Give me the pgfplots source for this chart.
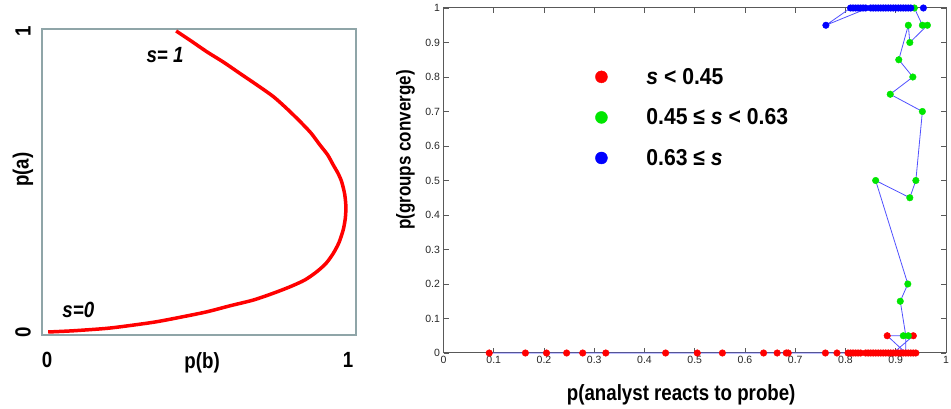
\documentclass[border=0pt]{standalone}
\usepackage{pgfplots}
\pgfplotsset{compat=1.18}
\usepackage{fontspec}
\setmainfont{Liberation Sans}
\newfontfamily\cond[FakeStretch=0.85]{Liberation Sans}
\newfontfamily\condw[FakeStretch=0.92]{Liberation Sans}
\definecolor{boxgray}{RGB}{143,165,168}
\definecolor{mgreen}{RGB}{0,230,0}
\definecolor{lineblue}{RGB}{80,80,255}
\definecolor{mred}{RGB}{255,0,0}
\definecolor{mblue}{RGB}{0,0,255}

\begin{document}
\begin{tikzpicture}
\useasboundingbox (0,0) rectangle (951pt,409pt);
% ---------------- left panel ----------------
\begin{axis}[
  at={(42pt,74pt)}, anchor=south west, scale only axis,
  width=314pt, height=306pt,
  xmin=-0.0166, xmax=1.0266, ymin=-0.01, ymax=1.0066,
  axis line style={boxgray, line width=2.8pt},
  xtick={0,1}, ytick={0,1}, major tick length=0pt,
  /pgf/number format/assume math mode=true,
  tick label style={font=\cond\bfseries\fontsize{22}{26}\selectfont},
  xticklabel style={anchor=center, yshift=-25pt},
  yticklabel style={xshift=-19pt, rotate=90, anchor=center},
  xlabel={p(b)}, ylabel={p(a)},
  every axis x label/.style={at={(axis description cs:0.51,0)}, anchor=center, yshift=-28pt,
     font=\cond\bfseries\fontsize{22}{26}\selectfont},
  every axis y label/.style={at={(axis description cs:0,0.54)}, xshift=-19pt, rotate=90, anchor=center,
     font=\cond\bfseries\fontsize{22}{26}\selectfont},
  clip=false,
]
\addplot[mred, line width=3.5pt, smooth, tension=0.45] coordinates {
 (0.004,0) (0.087,0.004) (0.198,0.012) (0.28,0.022) (0.364,0.034) (0.448,0.05) (0.531,0.067)
 (0.608,0.087) (0.685,0.106) (0.747,0.127)
 (0.807,0.15) (0.857,0.173) (0.896,0.2) (0.927,0.228) (0.951,0.261) (0.970,0.297) (0.984,0.339)
 (0.991,0.377) (0.993,0.416) (0.989,0.458) (0.979,0.499) (0.967,0.527)
 (0.951,0.555) (0.932,0.589) (0.907,0.621) (0.877,0.661) (0.841,0.699) (0.798,0.741)
 (0.752,0.782) (0.697,0.821) (0.641,0.859) (0.587,0.896) (0.531,0.931) (0.48,0.966)
 (0.429,1.0)
};
\node[font=\cond\bfseries\itshape\fontsize{22}{26}\selectfont] at (axis cs:0.392,0.92) {s= 1};
\node[font=\cond\bfseries\itshape\fontsize{22}{26}\selectfont] at (axis cs:0.104,0.073) {s=0};
\end{axis}
% ---------------- right panel ----------------
\begin{axis}[
  at={(443.5pt,56pt)}, anchor=south west, scale only axis,
  width=502.5pt, height=345pt,
  xmin=0, xmax=1, ymin=0, ymax=1,
  axis line style={black!65, line width=1pt},
  tick style={black!65, line width=0.8pt}, major tick length=5pt,
  tick align=inside, tick pos=both,
  xtick={0,0.1,0.2,0.3,0.4,0.5,0.6,0.7,0.8,0.9,1},
  ytick={0,0.1,0.2,0.3,0.4,0.5,0.6,0.7,0.8,0.9,1},
  /pgf/number format/assume math mode=true,
  tick label style={font=\fontsize{10.5}{12}\selectfont, text=black!85},
  xlabel={p(analyst reacts to probe)}, ylabel={p(groups converge)},
  every axis x label/.style={at={(axis description cs:0.473,0)}, anchor=center, yshift=-42pt,
     font=\cond\bfseries\fontsize{22}{26}\selectfont},
  every axis y label/.style={at={(axis description cs:0,0.588)}, xshift=-38pt, rotate=90, anchor=center,
     font=\cond\bfseries\fontsize{20}{24}\selectfont},
  legend style={draw=none, fill=none, at={(axis cs:0.296,0.838)}, anchor=north west,
     font=\condw\bfseries\fontsize{23}{27}\selectfont, row sep=19pt,
     /tikz/every odd column/.append style={column sep=37pt}},
  legend cell align=left,
  legend image code/.code={\draw[#1, mark size=6pt] plot coordinates {(0.3cm,0cm)};},
  clip=false,
]
\addplot[lineblue, line width=0.8pt, forget plot] coordinates {
 (0.091,0) (0.163,0) (0.205,0) (0.245,0) (0.277,0) (0.323,0) (0.442,0) (0.505,0)
 (0.555,0) (0.637,0) (0.664,0) (0.682,0) (0.686,0) (0.760,0) (0.783,0) (0.805,0)
 (0.94,0) (0.895,0) (0.935,0.05) (0.883,0.05) (0.92,0)
 (0.92,0.05) (0.909,0.15) (0.924,0.2) (0.86,0.5) (0.928,0.45) (0.94,0.5)
 (0.953,0.7) (0.889,0.75) (0.934,0.8) (0.906,0.85) (0.925,0.95) (0.928,0.9)
 (0.963,0.95) (0.953,0.95) (0.937,1.0) (0.81,1) (0.761,0.95) (0.845,1)
};
\addplot[mred, only marks, mark=*, mark size=3.3pt] coordinates {
 (0.091,0) (0.163,0) (0.205,0) (0.245,0) (0.277,0) (0.323,0) (0.442,0) (0.505,0)
 (0.555,0) (0.637,0) (0.664,0) (0.682,0) (0.686,0) (0.760,0) (0.783,0) (0.805,0)
 (0.81,0) (0.815,0) (0.82,0) (0.825,0) (0.83,0) (0.84,0) (0.845,0) (0.85,0)
 (0.855,0) (0.86,0) (0.865,0) (0.87,0) (0.875,0) (0.88,0) (0.885,0) (0.89,0)
 (0.895,0) (0.9,0) (0.905,0) (0.91,0) (0.915,0) (0.92,0) (0.925,0) (0.93,0)
 (0.935,0) (0.94,0) (0.883,0.05) (0.935,0.05)
};
\addlegendentry{\textit{s} < 0.45}
\addplot[mgreen, only marks, mark=*, mark size=3.3pt] coordinates {
 (0.915,0.05) (0.925,0.05) (0.909,0.15) (0.924,0.2) (0.86,0.5) (0.928,0.45) (0.94,0.5)
 (0.953,0.7) (0.889,0.75) (0.934,0.8) (0.906,0.85) (0.928,0.9) (0.925,0.95)
 (0.953,0.95) (0.963,0.95) (0.937,1.0)
};
\addlegendentry{0.45 ≤ \textit{s} < 0.63}
\addplot[mblue, only marks, mark=*, mark size=3.3pt] coordinates {
 (0.761,0.95) (0.81,1) (0.815,1) (0.82,1) (0.825,1) (0.83,1) (0.835,1) (0.84,1)
 (0.85,1) (0.855,1) (0.86,1) (0.865,1) (0.87,1) (0.875,1) (0.88,1) (0.885,1)
 (0.89,1) (0.895,1) (0.9,1) (0.905,1) (0.91,1) (0.915,1) (0.92,1) (0.925,1)
 (0.93,1) (0.955,1)
};
\addlegendentry{0.63 ≤ \textit{s}}
\end{axis}
\end{tikzpicture}
\end{document}
